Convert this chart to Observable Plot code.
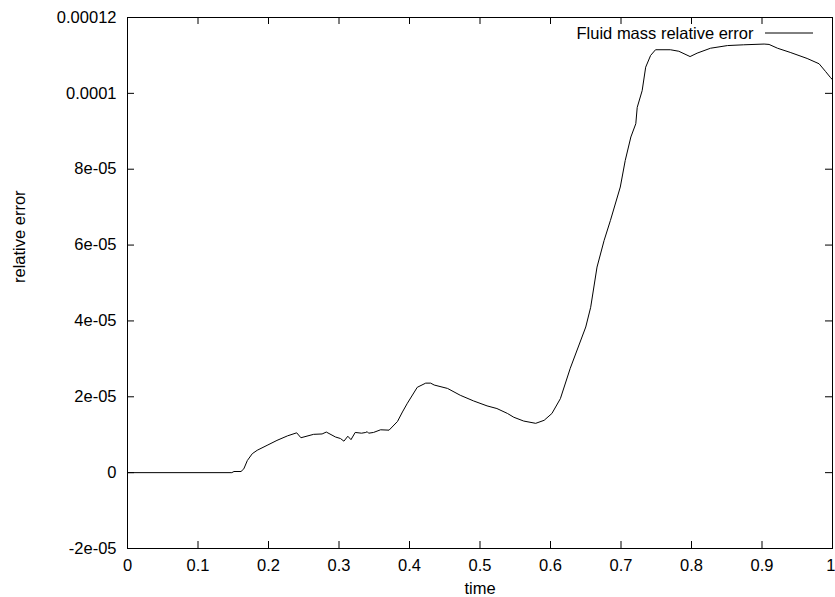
<!DOCTYPE html>
<html><head><meta charset="utf-8">
<script src="https://cdn.jsdelivr.net/npm/d3@7"></script>
<script src="https://cdn.jsdelivr.net/npm/@observablehq/plot@0.6"></script>
<style>body{margin:0;background:#fff} svg{display:block}</style>
</head><body><div id="chart"></div>
<script>
const time = [0, 0.148, 0.151, 0.161, 0.165, 0.170, 0.177, 0.184, 0.198, 0.212, 0.227, 0.240, 0.246, 0.264, 0.276, 0.282, 0.295, 0.302, 0.307, 0.3125, 0.317, 0.323, 0.332, 0.338, 0.340, 0.342, 0.349, 0.359, 0.371, 0.383, 0.390, 0.397, 0.411, 0.423, 0.430, 0.435, 0.454, 0.472, 0.491, 0.510, 0.524, 0.539, 0.548, 0.562, 0.579, 0.591, 0.602, 0.614, 0.628, 0.650, 0.657, 0.666, 0.676, 0.685, 0.699, 0.706, 0.714, 0.721, 0.723, 0.730, 0.735, 0.742, 0.749, 0.770, 0.782, 0.798, 0.808, 0.827, 0.851, 0.874, 0.903, 0.910, 0.922, 0.940, 0.964, 0.981, 0.990, 0.997, 1.0];
const relError = [0, 0, 0.3e-6, 0.3e-6, 1.0e-6, 3.2e-6, 5.0e-6, 5.9e-6, 7.2e-6, 8.5e-6, 9.7e-6, 10.5e-6, 9.2e-6, 10.1e-6, 10.2e-6, 10.7e-6, 9.4e-6, 9.0e-6, 8.3e-6, 9.6e-6, 8.7e-6, 10.6e-6, 10.4e-6, 10.6e-6, 10.8e-6, 10.4e-6, 10.6e-6, 11.3e-6, 11.2e-6, 13.5e-6, 16.0e-6, 18.3e-6, 22.5e-6, 23.6e-6, 23.6e-6, 23.1e-6, 22.2e-6, 20.4e-6, 18.9e-6, 17.6e-6, 16.9e-6, 15.6e-6, 14.6e-6, 13.6e-6, 13.0e-6, 13.8e-6, 15.6e-6, 19.5e-6, 27.5e-6, 38.4e-6, 43.6e-6, 54.2e-6, 61.2e-6, 66.5e-6, 75.3e-6, 82.3e-6, 88.5e-6, 92.0e-6, 96.3e-6, 100.7e-6, 106.9e-6, 110.0e-6, 111.5e-6, 111.5e-6, 111.1e-6, 109.7e-6, 110.6e-6, 111.9e-6, 112.6e-6, 112.8e-6, 113.0e-6, 112.9e-6, 111.9e-6, 110.8e-6, 109.2e-6, 107.8e-6, 105.8e-6, 104.2e-6, 103.6e-6];

const xTicks = [0, 0.1, 0.2, 0.3, 0.4, 0.5, 0.6, 0.7, 0.8, 0.9, 1];
const xTickLabels = ["0", "0.1", "0.2", "0.3", "0.4", "0.5", "0.6", "0.7", "0.8", "0.9", "1"];
const yTicks = [-2e-5, 0, 2e-5, 4e-5, 6e-5, 8e-5, 1e-4, 1.2e-4];
const yTickLabels = ["-2e-05", "0", "2e-05", "4e-05", "6e-05", "8e-05", "0.0001", "0.00012"];
const seriesName = "Fluid mass relative error";
const xLabel = "time";
const yLabel = "relative error";

const data = time.map((t, i) => ({time: t, err: relError[i]}));
const xLabelRows = xTicks.map((t, i) => ({t, label: xTickLabels[i]}));
const lastIdx = xTicks.length - 1;

const W = 835, H = 597;
const mt = 17, mr = 3, mb = 49, ml = 127;
const innerW = W - ml - mr, innerH = H - mt - mb;
const tk = 7;

const chart = Plot.plot({
  width: W, height: H,
  marginTop: mt, marginRight: mr, marginBottom: mb, marginLeft: ml,
  style: {fontFamily: "'Liberation Sans', Arial, Helvetica, sans-serif", fontSize: "16.5px", color: "black", background: "white"},
  x: {domain: [0, 1], axis: null},
  y: {domain: [-2e-5, 1.2e-4]},
  marks: [
    Plot.text(xLabelRows.slice(0, lastIdx), {x: "t", text: "label", frameAnchor: "bottom", dy: 17, lineAnchor: "middle", fill: "black"}),
    Plot.text(xLabelRows.slice(lastIdx), {x: "t", text: "label", frameAnchor: "bottom", dy: 17, dx: mr, textAnchor: "end", lineAnchor: "middle", fill: "black"}),
    Plot.axisY({ticks: yTicks, tickSize: 0, tickPadding: 11, tickFormat: d => yTickLabels[yTicks.indexOf(d)], label: null}),
    Plot.tickX(xTicks, {x: d => d, stroke: "black", insetTop: innerH - tk}),
    Plot.tickX(xTicks, {x: d => d, stroke: "black", insetBottom: innerH - tk}),
    Plot.tickY(yTicks, {y: d => d, stroke: "black", insetRight: innerW - tk}),
    Plot.tickY(yTicks, {y: d => d, stroke: "black", insetLeft: innerW - tk}),
    Plot.line(data, {x: "time", y: "err", stroke: "black", strokeWidth: 1}),
    Plot.frame({stroke: "black", strokeWidth: 1}),
    Plot.text([xLabel], {frameAnchor: "bottom", dy: 40, text: d => d, lineAnchor: "middle", fill: "black"}),
    Plot.text([yLabel], {frameAnchor: "left", dx: -108, rotate: -90, text: d => d, lineAnchor: "middle", fill: "black"}),
    Plot.text([seriesName], {frameAnchor: "top-right", dx: -79, dy: 16, text: d => d, textAnchor: "end", lineAnchor: "middle", fill: "black"})
  ]
});

d3.select(chart).append("line")
  .attr("x1", W - mr - 67).attr("x2", W - mr - 19)
  .attr("y1", mt + 16).attr("y2", mt + 16)
  .attr("stroke", "black").attr("stroke-width", 1);

document.getElementById("chart").appendChild(chart);
</script>
</body></html>
